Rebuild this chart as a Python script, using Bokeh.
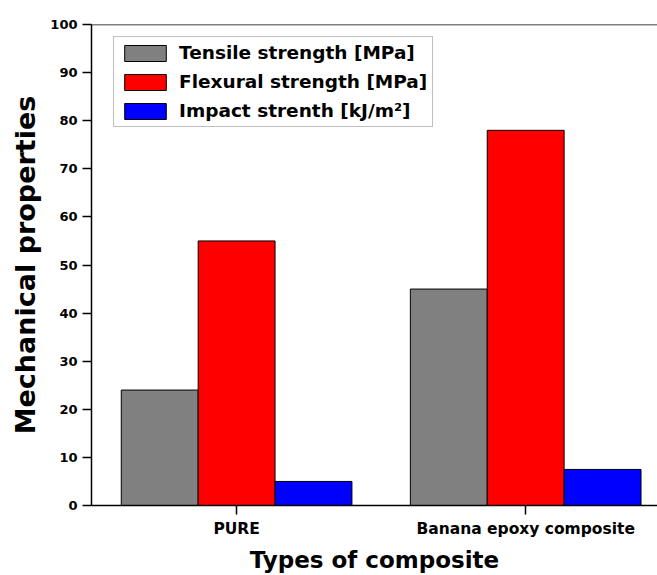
from bokeh.plotting import figure
from bokeh.models import ColumnDataSource, Range1d, FixedTicker, Span
from bokeh.transform import dodge
from bokeh.embed import file_html
from bokeh.resources import INLINE

categories = ["PURE", "Banana epoxy composite"]
series_names = ["Tensile strength [MPa]", "Flexural strength [MPa]", "Impact strenth [kJ/m\u00b2]"]
tensile = [24, 45]
flexural = [55, 78]
impact = [5, 7.5]
y_ticks = [0, 10, 20, 30, 40, 50, 60, 70, 80, 90, 100]

FONT = "DejaVu Sans"
bar_w = 0.266

src = ColumnDataSource(dict(x=list(range(len(categories))),
                            tensile=tensile, flexural=flexural, impact=impact))

p = figure(width=657, height=575, output_backend="svg", toolbar_location=None,
           x_range=Range1d(-0.502, 1.456), y_range=Range1d(0, 100),
           min_border_left=91, min_border_top=24, min_border_right=0, min_border_bottom=68)
p.outline_line_color = None
p.grid.visible = False
p.background_fill_color = "white"
p.border_fill_color = "white"

cols = ["tensile", "flexural", "impact"]
colors = ["#808080", "#ff0000", "#0000ff"]
offsets = [-bar_w, 0.0, bar_w]
for c, col, off, name in zip(cols, colors, offsets, series_names):
    p.vbar(x=dodge("x", off, range=p.x_range), top=c, width=bar_w, source=src,
           fill_color=col, line_color="black", line_width=1, legend_label=name)

# axes
p.xaxis.ticker = FixedTicker(ticks=list(range(len(categories))))
p.xaxis.major_label_overrides = {i: c for i, c in enumerate(categories)}
p.yaxis.ticker = FixedTicker(ticks=y_ticks)
for ax in (p.xaxis[0], p.yaxis[0]):
    ax.axis_line_width = 1.5
    ax.axis_line_color = "black"
    ax.major_tick_line_width = 1.5
    ax.major_tick_in = 0
    ax.major_tick_out = 9
    ax.minor_tick_line_color = None
    ax.major_label_text_font = FONT
    ax.major_label_text_font_style = "bold"
    ax.major_label_text_color = "black"
    ax.axis_label_text_font = FONT
    ax.axis_label_text_font_style = "bold"
    ax.axis_label_text_color = "black"
    ax.major_label_standoff = 5
    ax.axis_label_standoff = 6

p.xaxis.major_label_text_font_size = "15.5px"
p.yaxis.major_label_text_font_size = "13px"
p.xaxis.axis_label = "Types of composite"
p.yaxis.axis_label = "Mechanical properties"
p.xaxis.axis_label_text_font_size = "23px"
p.yaxis.axis_label_text_font_size = "27px"

# top frame line
p.add_layout(Span(location=100, dimension="width", line_color="black", line_width=1.5))

# legend
lg = p.legend[0]
lg.location = (22, 378)
lg.label_text_font = FONT
lg.label_text_font_style = "bold"
lg.label_text_font_size = "18.5px"
lg.label_text_color = "black"
lg.glyph_width = 52
lg.glyph_height = 20
lg.label_height = 20
lg.spacing = 8
lg.padding = 5
lg.label_standoff = 8
lg.border_line_color = "#7f7f7f"
lg.border_line_width = 1
lg.background_fill_alpha = 1.0
lg.margin = 0

open("out.html", "w").write(file_html(p, INLINE))
